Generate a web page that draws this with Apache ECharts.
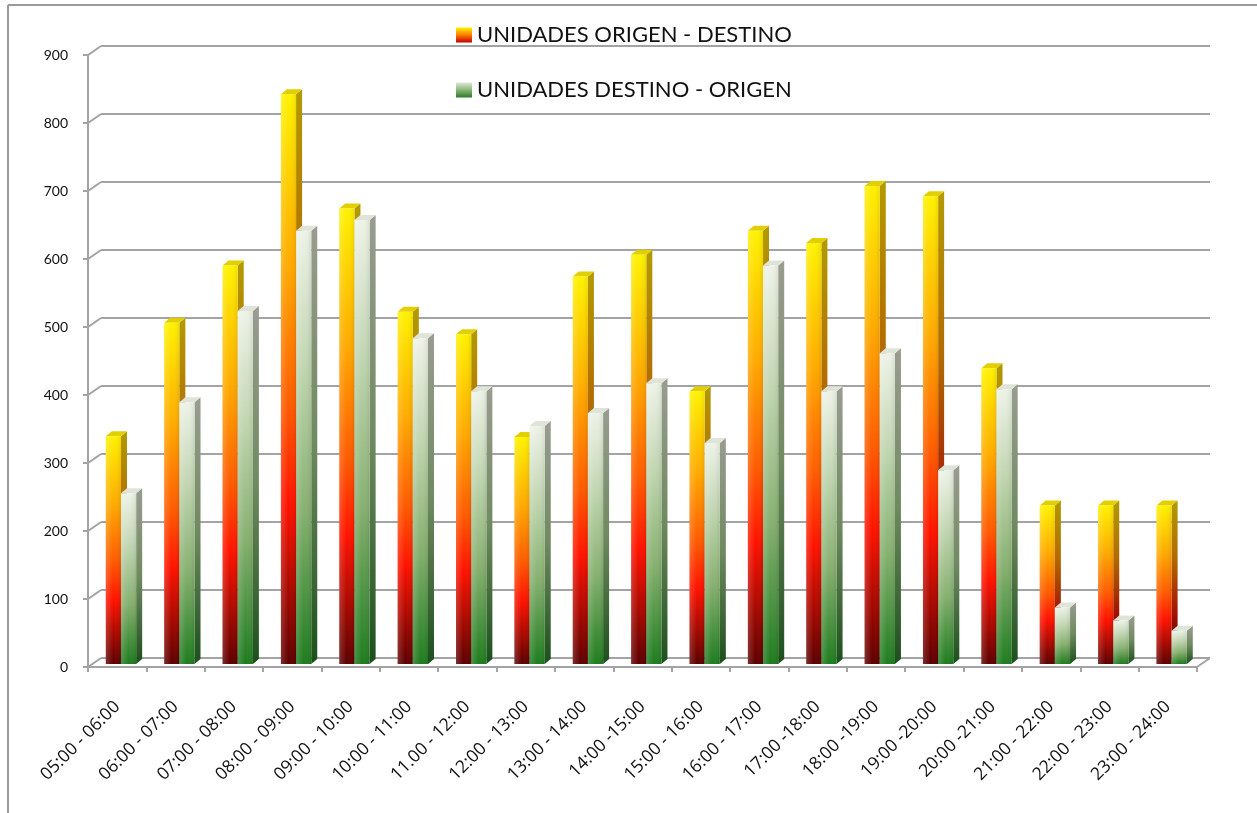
<!DOCTYPE html>
<html>
<head>
<meta charset="utf-8">
<script src="https://cdn.jsdelivr.net/npm/echarts@6/dist/echarts.min.js"></script>
<style>
  html, body { margin: 0; padding: 0; background: #fff; }
  #chart { width: 1257px; height: 813px; }
</style>
</head>
<body>
<div id="chart"></div>
<script>
// Hourly vehicle counts in each direction
const categories = [
  '05:00 - 06:00', '06:00 - 07:00', '07:00 - 08:00', '08:00 - 09:00', '09:00 - 10:00',
  '10:00 - 11:00', '11.00 - 12:00', '12:00 - 13:00', '13:00 - 14:00', '14:00 -15:00',
  '15:00 - 16:00', '16:00 - 17:00', '17:00 -18:00', '18:00 -19:00', '19:00 -20:00',
  '20:00 -21:00', '21:00 - 22:00', '22:00 - 23:00', '23:00 - 24:00'
];
const origenDestino = [335, 502, 586, 838, 670, 518, 485, 334, 570, 602, 401, 637, 619, 703, 688, 435, 233, 233, 233];
const destinoOrigen = [251, 385, 519, 637, 653, 479, 401, 350, 369, 413, 325, 586, 401, 457, 285, 404, 83, 64, 49];
const seriesNames = ['UNIDADES ORIGEN - DESTINO', 'UNIDADES DESTINO - ORIGEN'];
const yTicks = [0, 100, 200, 300, 400, 500, 600, 700, 800, 900];

const G = echarts.graphic;
const FONT = 'Lato, "Open Sans", sans-serif';
const WIDE_FONT = '"Open Sans", Lato, sans-serif';
const GRID_COLOR = '#a3a3a3';
const WALL_DX = 13, WALL_DY = -9;   // back wall offset
const BAR_DX = 6, BAR_DY = -5;      // bar depth

const palettes = [
  {
    front: new G.LinearGradient(0, 0, 0, 1, [
      { offset: 0, color: '#fff200' },
      { offset: 0.3, color: '#ffaa00' },
      { offset: 0.55, color: '#ff5a00' },
      { offset: 0.72, color: '#ff1200' },
      { offset: 1, color: '#5c0000' }
    ]),
    side: new G.LinearGradient(0, 0, 0, 1, [
      { offset: 0, color: '#b39a00' },
      { offset: 0.35, color: '#b36a00' },
      { offset: 0.7, color: '#a01000' },
      { offset: 1, color: '#3a0000' }
    ]),
    top: '#e3cf00',
    legend: new G.LinearGradient(0, 0, 0, 1, [
      { offset: 0, color: '#fff200' },
      { offset: 0.5, color: '#ff7a00' },
      { offset: 1, color: '#c00000' }
    ])
  },
  {
    front: new G.LinearGradient(0, 0, 0, 1, [
      { offset: 0, color: '#eef3e8' },
      { offset: 0.3, color: '#c3d7b3' },
      { offset: 0.65, color: '#86b06f' },
      { offset: 1, color: '#1e7c1e' }
    ]),
    side: new G.LinearGradient(0, 0, 0, 1, [
      { offset: 0, color: '#9a9c90' },
      { offset: 0.5, color: '#6f8a60' },
      { offset: 1, color: '#1c4f1c' }
    ]),
    top: '#dfe4d8',
    legend: new G.LinearGradient(0, 0, 0, 1, [
      { offset: 0, color: '#dfe9d6' },
      { offset: 0.5, color: '#8cb57a' },
      { offset: 1, color: '#2a7a2a' }
    ])
  }
];

// 3D-looking column: front face, side face, top cap
function barRenderer(idx) {
  return function (params, api) {
    const cat = api.value(0);
    const val = api.value(1);
    const band = api.size([1, 0])[0];
    const top = api.coord([cat, val]);
    const base = api.coord([cat, 0]);
    const w = band * 0.26;
    const x0 = top[0] - band / 2 + band * (0.305 + idx * 0.26);
    const yTop = top[1] - 3;
    const yBot = base[1] - 3;
    const p = palettes[idx];
    const shine = new G.LinearGradient(0, 0, 1, 0, [
      { offset: 0, color: 'rgba(255,255,255,0.18)' },
      { offset: 0.5, color: 'rgba(255,255,255,0)' },
      { offset: 1, color: 'rgba(0,0,0,0.08)' }
    ]);
    return {
      type: 'group',
      children: [
        { type: 'polygon', shape: { points: [[x0 + w, yTop], [x0 + w + BAR_DX, yTop + BAR_DY], [x0 + w + BAR_DX, yBot + BAR_DY], [x0 + w, yBot]] }, style: { fill: p.side } },
        { type: 'polygon', shape: { points: [[x0, yTop], [x0 + BAR_DX, yTop + BAR_DY], [x0 + w + BAR_DX, yTop + BAR_DY], [x0 + w, yTop]] }, style: { fill: p.top } },
        { type: 'rect', shape: { x: x0, y: yTop, width: w, height: yBot - yTop }, style: { fill: p.front } },
        { type: 'rect', shape: { x: x0, y: yTop, width: w, height: yBot - yTop }, style: { fill: shine } }
      ]
    };
  };
}

// Diagonal links between the front value axis and the back wall
function wallLinks(params, api) {
  const v = api.value(1);
  const band = api.size([1, 0])[0];
  const pt = api.coord([0, v]);
  const xl = pt[0] - band / 2;
  const children = [
    { type: 'line', shape: { x1: xl, y1: pt[1], x2: xl + WALL_DX, y2: pt[1] + WALL_DY }, style: { stroke: GRID_COLOR, lineWidth: 2 } }
  ];
  if (v === 0) {
    const end = api.coord([categories.length - 1, 0]);
    const xr = end[0] + band / 2;
    children.push({ type: 'line', shape: { x1: xr, y1: end[1], x2: xr + WALL_DX, y2: end[1] + WALL_DY }, style: { stroke: GRID_COLOR, lineWidth: 2 } });
  }
  return { type: 'group', children };
}

const chart = echarts.init(document.getElementById('chart'), null, { renderer: 'canvas' });

const frontGrid = { left: 88, top: 55, width: 1109, height: 612 };
const backGrid = { left: 88 + WALL_DX, top: 55 + WALL_DY, width: 1109, height: 612 };

chart.setOption({
  animation: false,
  backgroundColor: '#ffffff',
  graphic: [
    { type: 'line', shape: { x1: 8, y1: 5, x2: 8, y2: 813 }, style: { stroke: '#9a9a9a', lineWidth: 2 } },
    { type: 'line', shape: { x1: 8, y1: 5, x2: 1257, y2: 5 }, style: { stroke: '#9a9a9a', lineWidth: 2 } }
  ],
  legend: {
    orient: 'vertical',
    left: 451,
    top: 17,
    itemWidth: 16,
    itemHeight: 15,
    itemGap: 29,
    icon: 'rect',
    textStyle: { fontFamily: FONT, fontSize: 22, color: '#111', lineHeight: 26 },
    data: seriesNames
  },
  grid: [frontGrid, backGrid],
  xAxis: [
    {
      type: 'category',
      gridIndex: 0,
      data: categories,
      axisLine: { lineStyle: { color: GRID_COLOR, width: 2 } },
      axisTick: { show: true, length: 5, lineStyle: { color: GRID_COLOR, width: 2 } },
      axisLabel: { interval: 0, rotate: 45, margin: 37, fontFamily: WIDE_FONT, fontSize: 17.5, color: '#111' },
      splitLine: { show: false }
    },
    {
      type: 'category',
      gridIndex: 1,
      data: categories,
      axisLine: { show: false },
      axisTick: { show: false },
      axisLabel: { show: false },
      splitLine: { show: false }
    }
  ],
  yAxis: [
    {
      type: 'value',
      gridIndex: 0,
      min: 0,
      max: 900,
      interval: 100,
      axisLine: { show: true, lineStyle: { color: GRID_COLOR, width: 2 } },
      axisTick: { show: true, length: 5, lineStyle: { color: GRID_COLOR, width: 2 } },
      axisLabel: { margin: 20, fontFamily: FONT, fontSize: 14, color: '#111' },
      splitLine: { show: false }
    },
    {
      type: 'value',
      gridIndex: 1,
      min: 0,
      max: 900,
      interval: 100,
      axisLine: { show: false },
      axisTick: { show: false },
      axisLabel: { show: false },
      splitLine: { show: true, lineStyle: { color: GRID_COLOR, width: 2 } }
    }
  ],
  series: [
    {
      type: 'custom',
      name: '_walls',
      xAxisIndex: 0,
      yAxisIndex: 0,
      silent: true,
      clip: false,
      z: 1,
      renderItem: wallLinks,
      data: yTicks.map(v => [0, v])
    },
    {
      type: 'custom',
      name: seriesNames[0],
      xAxisIndex: 0,
      yAxisIndex: 0,
      clip: false,
      z: 3,
      itemStyle: { color: palettes[0].legend },
      renderItem: barRenderer(0),
      data: origenDestino.map((v, i) => [i, v])
    },
    {
      type: 'custom',
      name: seriesNames[1],
      xAxisIndex: 0,
      yAxisIndex: 0,
      clip: false,
      z: 4,
      itemStyle: { color: palettes[1].legend },
      renderItem: barRenderer(1),
      data: destinoOrigen.map((v, i) => [i, v])
    }
  ]
});
</script>
</body>
</html>
